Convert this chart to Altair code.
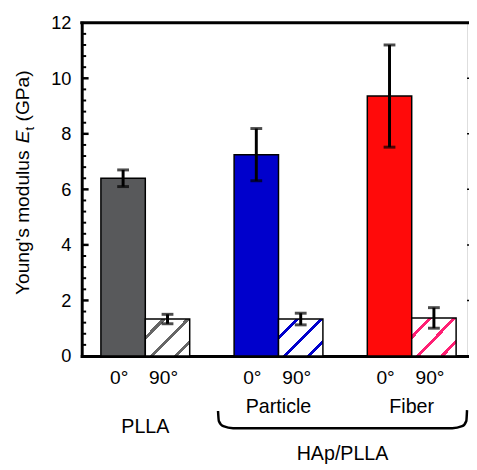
import altair as alt
import pandas as pd

# ---------------- data ----------------
groups = ["PLLA", "Particle", "Fiber"]
angles = ["0°", "90°"]
mean_0 = [6.40, 7.25, 9.36]
err_0 = [0.30, 0.94, 1.84]
mean_90 = [1.33, 1.33, 1.37]
err_90 = [0.17, 0.21, 0.37]
solid_colors = ["#58595b", "#0000cc", "#ff0a0a"]
hatch_colors = ["#666666", "#0000cc", "#ff1f73"]
y_labels = [0, 2, 4, 6, 8, 10, 12]
major_ticks = [2, 4, 6, 8, 10]
minor_ticks = [0.4, 0.8, 1.2, 1.6, 2.4, 2.8, 3.2, 3.6, 4.4, 4.8, 5.2, 5.6,
               6.4, 6.8, 7.2, 7.6, 8.4, 8.8, 9.2, 9.6, 10.4, 10.8, 11.2, 11.6]
group_names = ["PLLA", "Particle", "Fiber"]
group_centers = [0, 3, 6]
composite_label = "HAp/PLLA"
brace_x = [1.638, 1.656, 1.756, 1.977, 6.914, 7.135, 7.230, 7.246]
brace_y = [-1.98, -2.34, -2.53, -2.60, -2.60, -2.53, -2.34, -1.95]

rows = []
for gi, g in enumerate(groups):
    for ai, a in enumerate(angles):
        m = (mean_0 if ai == 0 else mean_90)[gi]
        e = (err_0 if ai == 0 else err_90)[gi]
        x0 = 3 * gi - 1 + ai
        rows.append(dict(group=g, angle=a, gi=gi, ai=ai, x0=x0, x1=x0 + 1,
                         xc=x0 + 0.5, mean=m, lo=m - e, hi=m + e))
df = pd.DataFrame(rows)
gl = pd.DataFrame({"name": group_names, "gx": group_centers})
brace = pd.DataFrame({"bx": brace_x, "by": brace_y, "o": list(range(len(brace_x)))})
one = pd.DataFrame({"a": [0]})

# ---------------- style ----------------
FONT = "Liberation Sans"
W, H = 392, 339
xs = alt.Scale(domain=[-1.432, 7.246], nice=False, zero=False)
ys = alt.Scale(domain=[0, 12], nice=False, zero=False)
XAX = alt.Axis(labels=False, ticks=False, grid=False, domainWidth=3,
               domainColor="black", domainCap="square", title="")
YAX = alt.Axis(values=y_labels, ticks=False, grid=False, domainWidth=3,
               domainColor="black", domainCap="square", labelFont=FONT,
               labelFontSize=18.5, labelColor="black", labelPadding=11, title="")


def X(f):
    return alt.X(f, scale=xs, axis=XAX)


def Y(f):
    return alt.Y(f, scale=ys, axis=YAX)


def hatch(color):
    centers = [0.25, 0.575, 0.90]
    hw = 0.028
    stops = [alt.GradientStop(offset=0, color="white")]
    for c in centers:
        stops += [alt.GradientStop(offset=c - hw, color="white"),
                  alt.GradientStop(offset=c - hw, color=color),
                  alt.GradientStop(offset=c + hw, color=color),
                  alt.GradientStop(offset=c + hw, color="white")]
    stops.append(alt.GradientStop(offset=1, color="white"))
    return alt.LinearGradient(gradient="linear", stops=stops, x1=0, y1=0, x2=1, y2=0.82)


base = alt.Chart(df)

solid = base.transform_filter(alt.datum.ai == 0).mark_bar(stroke="black", strokeWidth=1.5).encode(
    x=X("x0:Q"), x2="x1:Q", y=Y("mean:Q"), y2=alt.datum(0),
    fill=alt.Fill("group:N", scale=alt.Scale(domain=groups, range=solid_colors), legend=None),
)

hatched = []
for gi, col in enumerate(hatch_colors):
    hatched.append(
        base.transform_filter((alt.datum.ai == 1) & (alt.datum.gi == gi))
        .mark_bar(fill=hatch(col), stroke="black", strokeWidth=1.5)
        .encode(x=X("x0:Q"), x2="x1:Q", y=Y("mean:Q"), y2=alt.datum(0))
    )

err_rule = base.mark_rule(color="black", strokeWidth=3).encode(
    x=X("xc:Q"), y=Y("lo:Q"), y2="hi:Q")
cap_lo = base.mark_tick(orient="horizontal", size=12, thickness=3, color="black").encode(
    x=X("xc:Q"), y=Y("lo:Q"))
cap_hi = base.mark_tick(orient="horizontal", size=12, thickness=3, color="black").encode(
    x=X("xc:Q"), y=Y("hi:Q"))

maj = alt.Chart(pd.DataFrame({"v": major_ticks})).mark_rule(color="black", strokeWidth=2.5).encode(
    y=Y("v:Q"), x=alt.value(0), x2=alt.value(7))
mino = alt.Chart(pd.DataFrame({"v": minor_ticks})).mark_rule(color="black", strokeWidth=2).encode(
    y=Y("v:Q"), x=alt.value(0), x2=alt.value(4.5))
right_ticks = alt.Chart(pd.DataFrame({"v": major_ticks})).mark_rule(color="black", strokeWidth=1.5).encode(
    y=Y("v:Q"), x=alt.value(W), x2=alt.value(W + 2))
top_border = alt.Chart(one).mark_rule(color="black", strokeWidth=3).encode(
    x=alt.value(-1.5), x2=alt.value(W + 2), y=alt.value(0))

angle_text = base.mark_text(font=FONT, fontSize=19.5, baseline="alphabetic", align="center",
                            dx=-4, color="black").encode(
    x=X("xc:Q"), y=alt.value(367.7), text="angle:N")

sub_text = alt.Chart(gl).transform_filter(alt.datum.gx > 0).mark_text(
    font=FONT, fontSize=20, baseline="alphabetic", align="center", color="black").encode(
    x=X("gx:Q"), y=alt.value(397), text="name:N")
plla_text = alt.Chart(gl).transform_filter(alt.datum.gx == 0).mark_text(
    font=FONT, fontSize=20, baseline="alphabetic", align="center", color="black").encode(
    x=X("gx:Q"), y=alt.value(417), text="name:N")

brace_line = alt.Chart(brace).mark_line(interpolate="monotone", strokeWidth=2.5, color="black").encode(
    x=X("bx:Q"), y=Y("by:Q"), order="o:Q")
hap_x = (brace_x[0] + brace_x[-1]) / 2
hap_text = alt.Chart(pd.DataFrame({"hx": [hap_x], "t": [composite_label]})).mark_text(
    font=FONT, fontSize=20, baseline="alphabetic", align="center", color="black").encode(
    x=X("hx:Q"), y=alt.value(445), text="t:N")

# rotated y-axis title: "Young's modulus E_t (GPa)"
fs = 19.5
xb = -53.5
ys0 = 277.0
w1 = 7.917 * fs
wE = 0.667 * fs
wt = 0.278 * fs * 0.7
title_parts = [
    ("Young's modulus", xb, ys0, fs, "normal"),
    ("E", xb, ys0 - w1, fs, "italic"),
    ("t", xb + 4.5, ys0 - w1 - wE, fs * 0.7, "normal"),
    ("(GPa)", xb, ys0 - w1 - wE - wt - 0.278 * fs, fs, "normal"),
]
title_layers = []
for txt, tx, ty, tfs, sty in title_parts:
    title_layers.append(
        alt.Chart(one).mark_text(text=txt, font=FONT, fontSize=tfs, fontStyle=sty, angle=270,
                                 align="left", baseline="alphabetic", color="black")
        .encode(x=alt.value(tx), y=alt.value(ty))
    )

chart = alt.layer(
    solid, *hatched, err_rule, cap_lo, cap_hi, maj, mino, right_ticks, top_border,
    angle_text, sub_text, plla_text, brace_line, hap_text, *title_layers
).properties(
    width=W, height=H,
    autosize=alt.AutoSizeParams(type="none"),
    padding={"left": 75, "top": 11, "right": 2, "bottom": 112},
).configure_view(stroke="transparent").configure(font=FONT)

chart.save("out.html", embed_options={"renderer": "svg", "actions": False})
